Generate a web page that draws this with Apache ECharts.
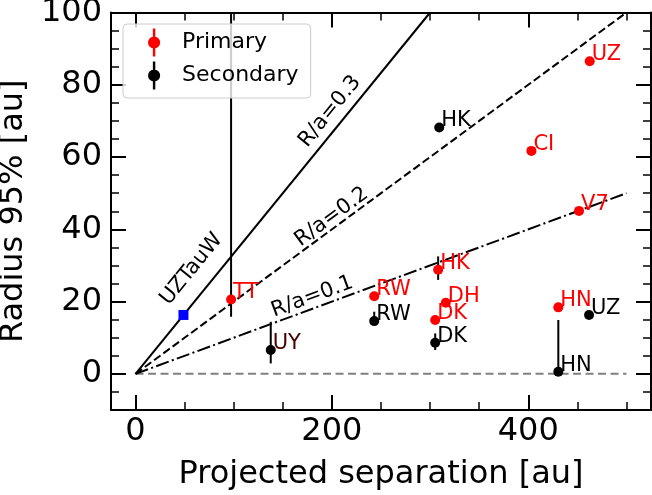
<!DOCTYPE html>
<html>
<head>
<meta charset="utf-8">
<script src="https://cdn.jsdelivr.net/npm/echarts@6/dist/echarts.min.js"></script>
<style>
html,body{margin:0;padding:0;background:#fff;}
#chart{width:652px;height:495px;}
</style>
</head>
<body>
<div id="chart"></div>
<script>
// ---- data ----
const primNames = ['UZ', 'CI', 'V7', 'HK', 'RW', 'DH', 'DK', 'HN', 'TT'];
const primX = [462.6, 403.2, 451.7, 308.2, 243.1, 316.0, 305.2, 430.6, 97.3];
const primY = [86.5, 61.7, 45.1, 28.8, 21.5, 19.7, 14.9, 18.4, 20.6];

const secNames = ['HK', 'RW', 'DK', 'HN', 'UZ', 'UY'];
const secX = [309.3, 243.1, 305.2, 430.6, 461.9, 137.7];
const secY = [68.2, 14.6, 8.6, 0.6, 16.3, 6.6];

// vertical error bars: x, low, high
const errX = [97.3, 137.7, 243.1, 308.2, 305.2, 430.6];
const errLo = [15.8, 2.9, 13.5, 26.0, 6.6, 0.0];
const errHi = [130.0, 14.4, 17.2, 32.5, 11.2, 14.9];

const uzTauWX = [48.8];
const uzTauWY = [16.3];

// reference lines R/a
const refLineSolid = [[0, 0], [300, 100]];
const refLineDashed = [[0, 0], [500, 100]];
const refLineDashDot = [[0, 0], [500, 50]];
const zeroLine = [[0, 0], [500, 0]];

const lineLabelText = ['R/a=0.3', 'R/a=0.2', 'R/a=0.1', 'UZTauW'];
const lineLabelX = [198, 199.7, 180, 57];
const lineLabelY = [72.6, 43.4, 21.3, 29];
const lineLabelRef = [0, 1, 2, 0];

const xMajor = [0, 200, 400];
const xMinor = [50, 100, 150, 250, 300, 350, 450, 500];
const yMajor = [0, 20, 40, 60, 80, 100];
const yMinor = [-5, 5, 10, 15, 25, 30, 35, 45, 50, 55, 65, 70, 75, 85, 90, 95];

// ---- chart ----
const FONT = '"DejaVu Sans", sans-serif';
const refLines = [refLineSolid, refLineDashed, refLineDashDot];

function mkAxis(kind, position, ticks, len, width, showLabel, showLine) {
  const isX = kind === 'x';
  return {
    type: 'value',
    position: position,
    min: isX ? -25 : -10,
    max: isX ? 525 : 100,
    axisLine: { show: showLine, onZero: false, lineStyle: { color: '#000', width: 2 } },
    axisTick: { show: true, inside: true, length: len, customValues: ticks,
      lineStyle: { color: '#000', width: width } },
    axisLabel: { show: showLabel, customValues: ticks, fontSize: 32, color: '#000',
      fontFamily: FONT, margin: isX ? 6 : 9 },
    splitLine: { show: false },
    minorTick: { show: false }
  };
}

const xAxes = [
  Object.assign(mkAxis('x', 'bottom', xMajor, 15, 2, true, true), {
    name: 'Projected separation [au]', nameLocation: 'middle', nameGap: 49,
    nameTextStyle: { fontSize: 32, color: '#000', fontFamily: FONT }
  }),
  mkAxis('x', 'bottom', xMinor, 8, 1.5, false, false),
  mkAxis('x', 'top', xMajor, 15, 2, false, true),
  mkAxis('x', 'top', xMinor, 8, 1.5, false, false)
];
const yAxes = [
  Object.assign(mkAxis('y', 'left', yMajor, 15, 2, true, true), {
    name: 'Radius 95% [au]', nameLocation: 'middle', nameGap: 65,
    nameTextStyle: { fontSize: 32, color: '#000', fontFamily: FONT }
  }),
  mkAxis('y', 'left', yMinor, 8, 1.5, false, false),
  mkAxis('y', 'right', yMajor, 15, 2, false, true),
  mkAxis('y', 'right', yMinor, 8, 1.5, false, false)
];

const iconPath = 'path://M4,0 L6,0 L6,23 L4,23 Z M0,11.5 A5,5 0 1,1 10,11.5 A5,5 0 1,1 0,11.5 Z';

function pointLabelSeries(xs, ys, names, color) {
  return {
    type: 'custom',
    z: 6,
    silent: true,
    data: xs.map((x, i) => [x, ys[i], i]),
    renderItem: function (params, api) {
      const p = api.coord([api.value(0), api.value(1)]);
      const nm = names[api.value(2)];
      let fill = color;
      if (nm === 'UY') fill = '#4a0000';
      return {
        type: 'text',
        x: p[0] + 2,
        y: p[1] + 4,
        style: { text: nm, fill: fill, font: '21px ' + FONT, align: 'left', verticalAlign: 'bottom' }
      };
    }
  };
}

const option = {
  animation: false,
  backgroundColor: '#fff',
  textStyle: { fontFamily: FONT },
  grid: { left: 111, right: 1, top: 12.5, bottom: 85, containLabel: false, outerBoundsMode: 'none' },
  xAxis: xAxes,
  yAxis: yAxes,
  legend: {
    data: [{ name: 'Primary', icon: iconPath }, { name: 'Secondary', icon: iconPath }],
    orient: 'vertical',
    left: 123, top: 24,
    padding: [4.5, 12, 8.5, 25],
    itemWidth: 46, itemHeight: 28, itemGap: 5,
    textStyle: { fontSize: 22, color: '#000', fontFamily: FONT },
    backgroundColor: 'rgba(255,255,255,0.8)',
    borderColor: '#cccccc', borderWidth: 1, borderRadius: 4
  },
  series: [
    { type: 'line', data: zeroLine, showSymbol: false, symbol: 'none', z: 1, silent: true,
      lineStyle: { color: '#808080', width: 2, type: [8, 4.5] } },
    { type: 'line', data: refLineSolid, symbol: 'none', z: 1, silent: true,
      lineStyle: { color: '#000', width: 2, type: 'solid' } },
    { type: 'line', data: refLineDashed, symbol: 'none', z: 1, silent: true,
      lineStyle: { color: '#000', width: 2, type: [8, 3.5] } },
    { type: 'line', data: refLineDashDot, symbol: 'none', z: 1, silent: true,
      lineStyle: { color: '#000', width: 2, type: [13.3, 3.3, 2.1, 3.3] } },
    {
      type: 'custom', z: 2, silent: true,
      data: errX.map((x, i) => [x, errLo[i], errHi[i]]),
      encode: { x: 0, y: [1, 2] },
      renderItem: function (params, api) {
        const a = api.coord([api.value(0), api.value(1)]);
        const b = api.coord([api.value(0), api.value(2)]);
        const top = params.coordSys.y;
        const bot = params.coordSys.y + params.coordSys.height;
        return {
          type: 'line',
          shape: { x1: a[0], y1: Math.min(Math.max(a[1], top), bot), x2: b[0], y2: Math.min(Math.max(b[1], top), bot) },
          style: { stroke: '#000', lineWidth: 2 }
        };
      }
    },
    { name: 'Primary', type: 'scatter', z: 4, symbol: 'circle', symbolSize: 10,
      itemStyle: { color: '#ff0000', opacity: 1 },
      data: primX.map((x, i) => [x, primY[i]]) },
    { name: 'Secondary', type: 'scatter', z: 4, symbol: 'circle', symbolSize: 10,
      itemStyle: { color: '#000000', opacity: 1 },
      data: secX.map((x, i) => [x, secY[i]]) },
    { name: 'UZTauW', type: 'scatter', z: 4, symbol: 'rect', symbolSize: 10,
      itemStyle: { color: '#0000ff', opacity: 1 },
      data: uzTauWX.map((x, i) => [x, uzTauWY[i]]) },
    pointLabelSeries(primX, primY, primNames, '#ff0000'),
    pointLabelSeries(secX, secY, secNames, '#000000'),
    {
      type: 'custom', z: 6, silent: true,
      data: lineLabelX.map((x, i) => [x, lineLabelY[i], i]),
      renderItem: function (params, api) {
        const i = api.value(2);
        const p = api.coord([api.value(0), api.value(1)]);
        const ln = refLines[lineLabelRef[i]];
        const p0 = api.coord(ln[0]);
        const p1 = api.coord(ln[1]);
        const ang = Math.atan2(p0[1] - p1[1], p1[0] - p0[0]);
        return {
          type: 'text', x: p[0], y: p[1], rotation: ang,
          style: { text: lineLabelText[i], fill: '#000', font: '21px ' + FONT, align: 'center', verticalAlign: 'middle' }
        };
      }
    }
  ]
};

const chart = echarts.init(document.getElementById('chart'), null, { renderer: 'canvas' });
chart.setOption(option);
</script>
</body>
</html>
